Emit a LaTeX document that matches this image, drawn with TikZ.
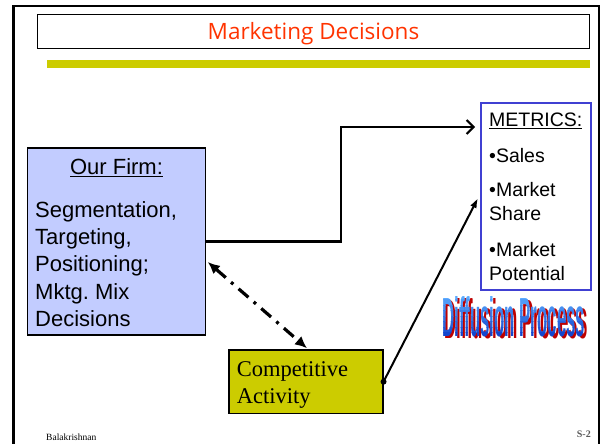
\documentclass[tikz,border=0pt]{standalone}
\usepackage{fontspec}
\setmainfont{Liberation Sans}
\newfontfamily\serifrm{Liberation Serif}
\newfontfamily\titlefont{Open Sans}
\usetikzlibrary{arrows.meta}
\frenchspacing
\definecolor{firmblue}{RGB}{194,204,255}
\definecolor{metricblue}{RGB}{64,64,210}
\definecolor{olivebox}{RGB}{204,204,0}
\definecolor{titlered}{RGB}{255,51,0}
\definecolor{dpred}{RGB}{190,0,0}
\definecolor{dptop}{RGB}{90,170,255}
\definecolor{dpbot}{RGB}{20,70,205}
\newcommand\dptext{\resizebox{143pt}{40pt}{\bfseries Diffusion Process}}
\tikzset{
  boxshape/.style={draw, inner sep=0pt, line width=1.6pt},
  firmtxt/.style={anchor=base west, inner sep=0pt, font=\fontsize{22}{26}\selectfont},
  mettxt/.style={anchor=base west, inner sep=0pt, font=\fontsize{19.5}{23}\selectfont},
  comptxt/.style={anchor=base west, inner sep=0pt, font=\serifrm\fontsize{22.5}{26}\selectfont},
  dpnode/.style={anchor=base west, inner sep=0pt}
}
\begin{document}
\begin{tikzpicture}[x=1pt,y=-1pt]
\useasboundingbox (0,0) rectangle (603,444);
% outer frame
\begin{scope}
\clip (0,0) rectangle (603,444);
\draw[line width=2.6pt] (13.5,470) -- (13.5,6) -- (599,6) -- (599,470);
\end{scope}
% title
\node[draw, line width=1pt, minimum width=552pt, minimum height=34pt, inner sep=0pt] (title) at (313.5,32) {};
\node[anchor=base, inner sep=0pt, text=titlered, font=\titlefont\fontsize{22.5}{27}\selectfont] (titletext) at (313.5,39.3) {Marketing Decisions};
\fill[olivebox] (47.3,60) rectangle (589.6,68);
% firm box
\node[boxshape, fill=firmblue, minimum width=178pt, minimum height=187pt] (firm) at (116.5,241.5) {};
\node[anchor=base, inner sep=0pt, font=\fontsize{22}{26}\selectfont] (firmhead) at (116.5,175) {\underline{Our Firm:}};
\node[firmtxt] (f1) at (35,217) {Segmentation,};
\node[firmtxt] (f2) at (35,244.4) {Targeting,};
\node[firmtxt] (f3) at (35,271.8) {Positioning;};
\node[firmtxt] (f4) at (35,299.2) {Mktg. Mix};
\node[firmtxt] (f5) at (35,326.6) {Decisions};
% metrics box
\node[draw=metricblue, fill=white, line width=2pt, inner sep=0pt, minimum width=110pt, minimum height=187pt] (metrics) at (536,196.5) {};
\node[mettxt] (m0) at (489,126.7) {\underline{METRICS:}};
\node[mettxt] (m1) at (489,162.7) {•Sales};
\node[mettxt] (m2) at (489,196.7) {•Market};
\node[mettxt] (m3) at (489,220.7) {Share};
\node[mettxt] (m4) at (489,256.7) {•Market};
\node[mettxt] (m5) at (489,280.3) {Potential};
% competitive box
\node[boxshape, fill=olivebox, minimum width=153.5pt, minimum height=63.3pt] (comp) at (306,381.7) {};
\node[comptxt] (c1) at (236.7,376.7) {Competitive};
\node[comptxt] (c2) at (236.7,403.3) {Activity};
% diffusion process word art
\node[dpnode, text=dpred] (dpshadow) at (444.5,338.5) {\dptext};
\foreach \i in {0,...,7}{
  \pgfmathsetmacro{\mix}{100-\i*100/7}
  \begin{scope}
    \clip (430,{294+\i*5.5}) rectangle (600,{294+(\i+1)*5.5});
    \node[dpnode, text=dptop!\mix!dpbot] (dp\i) at (442,336) {\dptext};
  \end{scope}
}
% connectors
\draw[line width=2.4pt, -{Straight Barb[length=7pt, width=14pt, line width=2pt]}]
  (firm.east) -- ++(134.5,0) |- ([xshift=-5pt, yshift=-25pt]metrics.north west);
\draw[line width=2pt, -{Latex[length=10pt, width=7pt]}]
  (comp.east) -- ([xshift=-2pt, yshift=-1.5pt]metrics.west);
\fill (comp.east) circle (3pt);
\draw[line width=3.2pt, dash pattern=on 13pt off 7pt on 3pt off 7pt,
  {Latex[length=12pt, width=11pt]}-{Latex[length=12pt, width=11pt]}]
  ([xshift=1.5pt, yshift=-20.5pt]firm.east) -- ([xshift=1pt, yshift=1pt]comp.north);
% footer
\node[anchor=base west, inner sep=0pt, font=\serifrm\fontsize{9.5}{10}\selectfont] (author) at (46,440) {Balakrishnan};
\node[anchor=base east, inner sep=0pt, text=black!65, font=\serifrm\bfseries\fontsize{10}{10}\selectfont] (slideno) at (591,437.5) {S-2};
\end{tikzpicture}
\end{document}
